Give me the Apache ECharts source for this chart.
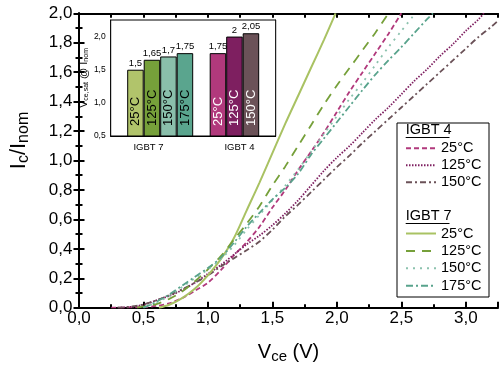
<!DOCTYPE html>
<html><head><meta charset="utf-8">
<script src="https://cdn.jsdelivr.net/npm/echarts@6.0.0/dist/echarts.min.js"></script>
<style>html,body{margin:0;padding:0;background:#fff}#c{width:501px;height:371px}</style>
</head><body><div id="c"></div>
<script>
const FONT = 'Liberation Sans, Arial, sans-serif';

// Main chart: Ic/Inom vs Vce, [Vce, Ic/Inom] pairs
const igbt4_25 = [[0.25,0],[0.5,0.004],[0.6,0.012],[0.7,0.03],[0.8,0.065],[0.9,0.115],[1.0,0.17],[1.1,0.255],[1.2,0.355],[1.3,0.445],[1.4,0.55],[1.5,0.68],[1.6,0.8],[1.7,0.935],[1.8,1.06],[1.9,1.19],[2.0,1.33],[2.1,1.47],[2.2,1.6],[2.3,1.73],[2.4,1.86],[2.5,2.0]];
const igbt4_125 = [[0.3,0],[0.4,0.005],[0.5,0.02],[0.6,0.05],[0.7,0.08],[0.8,0.12],[0.9,0.17],[1.0,0.23],[1.1,0.29],[1.2,0.36],[1.3,0.43],[1.4,0.49],[1.5,0.56],[1.6,0.64],[1.7,0.73],[1.8,0.83],[1.9,0.93],[2.0,1.02],[2.1,1.1],[2.2,1.19],[2.3,1.28],[2.4,1.36],[2.5,1.45],[2.6,1.54],[2.7,1.62],[2.8,1.71],[2.9,1.79],[3.0,1.88],[3.1,1.96],[3.14,2.0]];
const igbt4_150 = [[0.3,0],[0.4,0.006],[0.5,0.022],[0.6,0.05],[0.7,0.085],[0.8,0.125],[0.9,0.17],[1.0,0.22],[1.1,0.28],[1.2,0.335],[1.3,0.39],[1.4,0.45],[1.5,0.53],[1.6,0.62],[1.7,0.7],[1.8,0.785],[1.9,0.87],[2.0,0.955],[2.1,1.035],[2.2,1.12],[2.3,1.2],[2.4,1.28],[2.5,1.36],[2.6,1.44],[2.7,1.52],[2.8,1.6],[2.9,1.68],[3.0,1.76],[3.1,1.84],[3.2,1.91],[3.25,1.95]];
const igbt7_25 = [[0.62,0],[0.7,0.02],[0.8,0.065],[0.9,0.13],[1.0,0.22],[1.1,0.33],[1.2,0.47],[1.3,0.66],[1.4,0.85],[1.5,1.05],[1.6,1.25],[1.7,1.44],[1.8,1.63],[1.9,1.82],[1.99,2.0]];
const igbt7_125 = [[0.45,0],[0.6,0.025],[0.7,0.06],[0.8,0.11],[0.9,0.18],[1.0,0.26],[1.1,0.35],[1.2,0.46],[1.3,0.57],[1.4,0.69],[1.5,0.83],[1.6,0.96],[1.7,1.1],[1.8,1.24],[1.9,1.38],[2.0,1.51],[2.1,1.63],[2.2,1.75],[2.3,1.87],[2.4,2.0]];
const igbt7_150 = [[0.5,0],[0.6,0.035],[0.7,0.08],[0.8,0.14],[0.9,0.2],[1.0,0.26],[1.1,0.33],[1.2,0.42],[1.3,0.53],[1.4,0.63],[1.5,0.73],[1.6,0.83],[1.7,0.94],[1.8,1.06],[1.9,1.18],[2.0,1.3],[2.1,1.42],[2.2,1.53],[2.3,1.65],[2.4,1.77],[2.5,1.88],[2.6,1.99]];
const igbt7_175 = [[0.5,0],[0.6,0.04],[0.7,0.09],[0.8,0.15],[0.9,0.21],[1.0,0.27],[1.1,0.34],[1.2,0.44],[1.3,0.55],[1.4,0.645],[1.5,0.735],[1.6,0.815],[1.7,0.91],[1.8,1.04],[1.9,1.15],[2.0,1.26],[2.1,1.37],[2.2,1.48],[2.3,1.585],[2.4,1.68],[2.5,1.77],[2.6,1.865],[2.7,1.96],[2.745,2.0]];

const igbt4Names = ['25°C','125°C','150°C'];
const igbt7Names = ['25°C','125°C','150°C','175°C'];

// Inset: Vce,sat @ Inom bars
const barSlots = ['p0','i7a','i7b','i7c','i7d','p1','i4a','i4b','i4c','p2'];
const barValues = [null,1.5,1.65,1.7,1.75,null,1.75,2.0,2.05,null];
const barTemps = ['','25°C','125°C','150°C','175°C','','25°C','125°C','150°C',''];
const barGroupLabels = ['','','IGBT 7','','','','','IGBT 4','',''];

const xMainTicks = [0,0.5,1.0,1.5,2.0,2.5,3.0];

const colors = {
  i4_25:'#b1397c', i4_125:'#7e1f60', i4_150:'#6b5258',
  i7_25:'#a9c263', i7_125:'#76a03a', i7_150:'#8cc2ae', i7_175:'#58a38c'
};
const barColors = [null,'#b1c46b','#76a03a','#8abfab','#5aa58e',null,'#b1397c','#7e1f60','#6b5258',null];
const barTextColors = ['','#000','#000','#000','#000','','#fff','#fff','#fff',''];

const comma = v => String(v).replace('.', ',');

function line(name, data, color, type, width) {
  return {
    name, type:'line', data, xAxisIndex:0, yAxisIndex:0,
    showSymbol:false, symbol:'none', smooth:0.3, clip:true,
    lineStyle:{color, width: width || 1.8, type},
    itemStyle:{color}, z:3
  };
}

const chart = echarts.init(document.getElementById('c'), null, {renderer:'canvas'});

const axisLineStyle = {color:'#000', width:2};
const legendCommon = {orient:'vertical', left:405, padding:0, itemWidth:30, itemHeight:14,
  selectedMode:false, itemStyle:{opacity:0},
  textStyle:{fontSize:14.5, color:'#000', fontFamily:FONT}, z:10};

const option = {
  animation:false,
  backgroundColor:'#fff',
  textStyle:{fontFamily:FONT},
  grid:[
    {left:77.3, top:13.3, width:422, height:294.4},
    {left:110.7, top:20, width:165, height:116, show:true, backgroundColor:'#fff', borderColor:'#000', borderWidth:1, z:5}
  ],
  xAxis:[
    {type:'value', gridIndex:0, min:0, max:3.25, interval:0.5, position:'bottom',
     axisLine:{lineStyle:axisLineStyle}, axisTick:{inside:true, length:6, lineStyle:{width:2,color:'#000'}},
     splitLine:{show:false},
     axisLabel:{fontSize:17, color:'#000', fontFamily:FONT, margin:2,
       formatter: v => xMainTicks.indexOf(v) >= 0 ? v.toFixed(1).replace('.', ',') : ''},
     name:'{a|V}{b|ce}{a| (V)}', nameLocation:'middle', nameGap:33,
     nameTextStyle:{rich:{a:{fontSize:20,color:'#000',fontFamily:FONT}, b:{fontSize:15,color:'#000',fontFamily:FONT,padding:[9,0,0,0]}}}
    },
    {type:'value', gridIndex:0, min:0, max:3.25, interval:0.25, position:'bottom',
     axisLine:{show:false}, axisTick:{inside:true, length:3.5, lineStyle:{width:2,color:'#000'}},
     splitLine:{show:false}, axisLabel:{show:false}},
    {type:'value', gridIndex:0, min:0, max:3.25, interval:0.25, position:'top',
     axisLine:{lineStyle:axisLineStyle}, axisTick:{inside:true, length:4.5, lineStyle:{width:2,color:'#000'}},
     splitLine:{show:false}, axisLabel:{show:false}},
    {type:'category', gridIndex:1, data:barSlots, position:'bottom',
     axisLine:{lineStyle:{color:'#000', width:1}}, axisTick:{show:false},
     axisLabel:{interval:0, margin:6, color:'#000', fontFamily:FONT, fontSize:9.5,
       formatter:(v, i) => barGroupLabels[i] ? (i < 5 ? '{l|' + barGroupLabels[i] + '}' : '{r|' + barGroupLabels[i] + '}') : '',
       rich:{l:{fontSize:9.5, color:'#000', fontFamily:FONT, padding:[0,7,0,0]}, r:{fontSize:9.5, color:'#000', fontFamily:FONT, padding:[0,0,0,10]}}}
    }
  ],
  yAxis:[
    {type:'value', gridIndex:0, min:0, max:2, interval:0.2, position:'left',
     axisLine:{show:true, lineStyle:axisLineStyle},
     axisTick:{show:true, inside:true, length:5.5, lineStyle:{width:2,color:'#000'}},
     minorTick:{show:true, splitNumber:2, length:3.5, lineStyle:{width:2,color:'#000'}},
     splitLine:{show:false}, minorSplitLine:{show:false},
     axisLabel:{fontSize:17, color:'#000', fontFamily:FONT, margin:6.5, formatter:v => v.toFixed(1).replace('.', ',')},
     name:'{a|I}{b|c}{a|/I}{b|nom}', nameLocation:'middle', nameGap:47,
     nameTextStyle:{padding:[0,0,0,40], rich:{a:{fontSize:22,color:'#000',fontFamily:FONT}, b:{fontSize:16,color:'#000',fontFamily:FONT,padding:[10,0,0,0]}}}
    },
    {type:'value', gridIndex:0, min:0, max:2, interval:0.2, position:'right',
     axisLine:{show:true, lineStyle:axisLineStyle},
     axisTick:{show:true, inside:true, length:5.5, lineStyle:{width:2,color:'#000'}},
     minorTick:{show:true, splitNumber:2, length:3.5, lineStyle:{width:2,color:'#000'}},
     splitLine:{show:false}, minorSplitLine:{show:false}, axisLabel:{show:false}},
    {type:'value', gridIndex:1, min:0.5, max:2.25, interval:0.5, position:'left',
     axisLine:{show:true, lineStyle:{color:'#000', width:1}},
     axisTick:{show:true, inside:true, length:3, lineStyle:{color:'#000', width:1}},
     splitLine:{show:false},
     axisLabel:{fontSize:8.5, color:'#000', fontFamily:FONT, margin:5,
       formatter:v => (Math.abs(v*2 - Math.round(v*2)) < 1e-6) ? v.toFixed(1).replace('.', ',') : ''},
     name:'{a|V}{b|ce,sat}{a| @ I}{b|nom}', nameLocation:'middle', nameGap:14,
     nameTextStyle:{rich:{a:{fontSize:11,color:'#000',fontFamily:FONT}, b:{fontSize:7,color:'#000',fontFamily:FONT,padding:[6,0,0,0]}}}
    },
    {type:'value', gridIndex:1, min:0.5, max:2.25, interval:0.5, position:'right',
     axisLine:{show:true, lineStyle:{color:'#000', width:1}},
     axisTick:{show:true, inside:true, length:3, lineStyle:{color:'#000', width:1}},
     splitLine:{show:false}, axisLabel:{show:false}}
  ],
  legend:[
    Object.assign({}, legendCommon, {top:140.75, itemGap:2,
      data:igbt4Names.map(n => 'IGBT 4 ' + n), formatter:n => n.replace('IGBT 4 ', '')}),
    Object.assign({}, legendCommon, {top:226, itemGap:2.4,
      data:igbt7Names.map(n => 'IGBT 7 ' + n), formatter:n => n.replace('IGBT 7 ', '')})
  ],
  graphic:[
    {type:'rect', z:8, shape:{x:397, y:123, width:92, height:174}, style:{fill:'#fff', stroke:'#000', lineWidth:1}},
    {type:'text', z:9, x:405.7, y:130, style:{text:'IGBT 4', fontSize:14.5, fontFamily:FONT, fill:'#000', verticalAlign:'middle'}},
    {type:'line', z:9, shape:{x1:405.7, y1:137.5, x2:449.5, y2:137.5}, style:{stroke:'#000', lineWidth:1}},
    {type:'text', z:9, x:405.7, y:216, style:{text:'IGBT 7', fontSize:14.5, fontFamily:FONT, fill:'#000', verticalAlign:'middle'}},
    {type:'line', z:9, shape:{x1:405.7, y1:223.5, x2:449.5, y2:223.5}, style:{stroke:'#000', lineWidth:1}}
  ],
  series:[
    line('IGBT 4 25°C', igbt4_25, colors.i4_25, [5,3]),
    line('IGBT 4 125°C', igbt4_125, colors.i4_125, [1.5,1.5]),
    line('IGBT 4 150°C', igbt4_150, colors.i4_150, [6,3,2,3]),
    line('IGBT 7 25°C', igbt7_25, colors.i7_25, 'solid', 2),
    line('IGBT 7 125°C', igbt7_125, colors.i7_125, [9,7]),
    line('IGBT 7 150°C', igbt7_150, colors.i7_150, [2,5]),
    line('IGBT 7 175°C', igbt7_175, colors.i7_175, [7,3,2,3]),
    {type:'bar', xAxisIndex:3, yAxisIndex:2, barCategoryGap:'0%', barGap:'-100%', z:6,
     data:barValues.map((v, i) => v == null ? null : {value:v,
       itemStyle:{color:barColors[i], borderColor:'#000', borderWidth:1},
       label:{color:barTextColors[i]}}),
     label:{show:true, position:'insideBottom', rotate:90, align:'left', verticalAlign:'middle', distance:10.5,
       fontSize:13, fontFamily:FONT, formatter:p => barTemps[p.dataIndex]}},
    {type:'bar', xAxisIndex:3, yAxisIndex:2, barCategoryGap:'0%', barGap:'-100%', z:7,
     data:barValues, itemStyle:{color:'rgba(0,0,0,0)', borderWidth:0},
     label:{show:true, position:'top', distance:1.5, fontSize:9.5, fontFamily:FONT, color:'#000',
       formatter:p => comma(p.value)}}
  ]
};
chart.setOption(option);
</script></body></html>
